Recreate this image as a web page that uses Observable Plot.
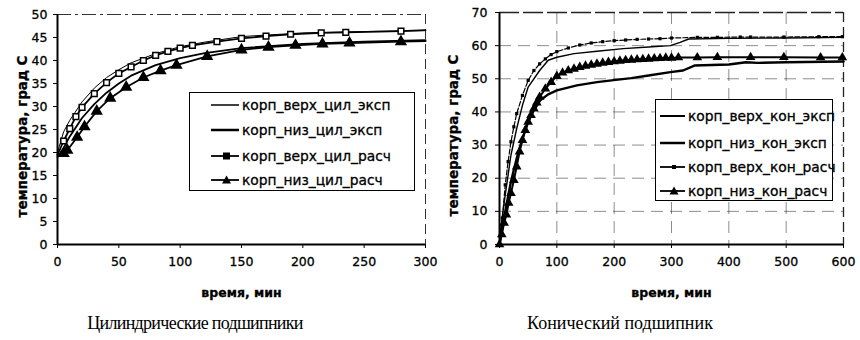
<!DOCTYPE html>
<html><head><meta charset="utf-8">
<script src="https://cdn.jsdelivr.net/npm/d3@7"></script>
<script src="https://cdn.jsdelivr.net/npm/@observablehq/plot@0.6"></script>
<style>
body{margin:0;background:#fff;}
#wrap{position:relative;width:860px;height:340px;background:#fff;overflow:hidden;font-family:"DejaVu Sans",sans-serif;}
.chart{position:absolute;top:0;}
.chart text{stroke:#000;stroke-width:0.3px;}
.cap{position:absolute;top:313px;font-family:"Liberation Serif",serif;font-size:18px;white-space:nowrap;transform:translateX(-50%);color:#000;}
.leg{position:absolute;border:1.5px solid #000;background:#fff;box-sizing:border-box;}
.row{position:absolute;left:0;height:20px;display:flex;align-items:center;white-space:nowrap;font-size:13.8px;color:#000;-webkit-text-stroke:0.3px #000;}
.row svg{flex:none;}
</style></head>
<body><div id="wrap"></div>
<script>
// ---- Left chart: cylindrical bearings ----
const seriesL = ["корп_верх_цил_эксп","корп_низ_цил_эксп","корп_верх_цил_расч","корп_низ_цил_расч"];
const tUpExpL = [0,5,10,20,30,40,50,60,80,100,120,150,200,250,300];
const vUpExpL = [20,24.5,27,31,34,36.3,38,39.5,41.5,43,44,45.2,46,46.3,46.5];
const tLoExpL = [0,5,10,20,30,40,50,60,80,100,120,150,200,250,300];
const vLoExpL = [19,21,23.5,27.5,30.5,33,35,36.7,39,40.5,41.6,42.7,43.6,44.1,44.4];
const tUpCalcL = [0,5,10,15,20,30,40,50,60,70,80,90,100,110,130,150,170,190,215,235,280,300];
const vUpCalcL = [19.5,22.5,25.2,27.8,29.8,32.8,35.2,37.2,38.6,40,41.1,42,42.7,43.3,44.1,44.8,45.3,45.7,46,46.1,46.4,46.6];
const tLoCalcL = [0,5,8,16,22,32,43,56,70,84,97,122,150,172,194,216,238,280,300];
const vLoCalcL = [19.5,19.8,20.5,23.3,25.6,29,31.8,34.2,36.3,37.8,39,40.9,42.3,42.9,43.3,43.6,43.8,44.1,44.2];
const markerTL = [5,10,15,20,30,40,50,60,70,80,90,100,110,130,150,170,190,215,235,280];
const markerTLlo = [5,8,16,22,32,43,56,70,84,97,122,150,172,194,216,238,280];
const xTicksL = [0,50,100,150,200,250,300];
const yTicksL = [0,5,10,15,20,25,30,35,40,45,50];

// ---- Right chart: conical bearing ----
const seriesR = ["корп_верх_кон_эксп","корп_низ_кон_эксп","корп_верх_кон_расч","корп_низ_кон_расч"];
const tUpExpR = [0,10,20,30,40,50,70,85,100,130,170,216,260,298,315,330,400,500,600];
const vUpExpR = [2,15,27,35,42,47.5,52.5,55.6,56.5,57.6,58.3,59.1,59.6,60,61,62,62.2,62.3,62.5];
const tLoExpR = [0,10,20,30,40,50,60,71,85,100,135,170,199,230,260,298,320,340,400,430,450,500,600];
const vLoExpR = [0,10,19,26,32,37,40.5,43.5,45.3,46.5,48,49,49.6,50.2,51,52,52.5,54,54.3,55,54.8,55,55.2];
const tUpCalcR = [0,5,10,15,20,25,30,40,50,60,70,80,90,100,120,140,160,180,200,220,240,260,280,300,345,380,420,438,496,557,598];
const vUpCalcR = [0,8,18,25,31,35.5,39.5,45,49.5,52.5,54.5,56,57.3,58.2,59.3,60.2,60.8,61.2,61.5,61.7,61.9,62,62.1,62.3,62.5,62.5,62.6,62.6,62.6,62.7,62.7];
const tLoCalcR = [0,4,8,12,16,20,25,30,35,40,45,50,55,60,65,70,80,90,100,110,120,130,140,150,160,170,180,190,200,210,220,230,240,250,260,270,280,290,300,312,345,380,438,496,560,598];
const vLoCalcR = [0,3,6.5,9,12.5,15.5,19.4,23.5,28,31.5,34.5,37,39,41,42.8,44.5,47,49,50.8,51.8,52.5,53,53.5,53.9,54.2,54.5,54.8,55,55.2,55.4,55.6,55.7,55.8,55.9,56,56.1,56.2,56.3,56.3,56.4,56.4,56.5,56.5,56.5,56.4,56.4];
const xTicksR = [0,100,200,300,400,500,600];
const yTicksR = [0,10,20,30,40,50,60,70];

const yLabel = "температура, град С";
const xLabel = "время, мин";
const captions = ["Цилиндрические подшипники","Конический подшипник"];

const zip = (ts, vs) => ts.map((t,i)=>({t, v: vs[i]}));
const wrap = document.getElementById("wrap");

function makeChart(opts){
  const {left, width, mL, mR, mT, mB, xDom, yDom, xT, yT, marks} = opts;
  const p = Plot.plot({
    width, height: 310, marginLeft: mL, marginRight: mR, marginTop: mT, marginBottom: mB,
    x: {domain: xDom}, y: {domain: yDom},
    style: {fontFamily: "DejaVu Sans, sans-serif", fontSize: "12.5px", color: "#000", background: "transparent", overflow: "visible"},
    marks: [
      ...marks,
      Plot.axisX({ticks: xT, tickSize: 4, tickPadding: 9, label: null, fontSize: 12.5}),
      Plot.axisY({ticks: yT, tickSize: 4, tickPadding: opts.yPad, label: null, fontSize: 12.5}),
      Plot.text([xLabel], {frameAnchor: "bottom", dy: 52, text: d => d, fontWeight: "bold", fontSize: 12.5, textAnchor: "middle"}),
      Plot.text([yLabel], {frameAnchor: "left", dx: -opts.yLabOff, dy: 7, rotate: -90, text: d => d, fontWeight: "bold", fontSize: 13.5, textAnchor: "middle"})
    ]
  });
  p.classList.add("chart");
  p.style.left = left + "px";
  wrap.appendChild(p);
}

// Left chart
makeChart({
  left: 0, width: 430, mL: 57, mR: 5, mT: 14, mB: 66, xDom: [0,300], yDom: [0,50], xT: xTicksL, yT: yTicksL, yPad: 6, yLabOff: 35,
  marks: [
    Plot.ruleY([50], {stroke: "#333", strokeDasharray: "14,4,3,4"}),
    Plot.ruleX([300], {stroke: "#333", strokeDasharray: "10,5"}),
    Plot.line(zip(tUpExpL, vUpExpL), {x: "t", y: "v", stroke: "#000", strokeWidth: 1}),
    Plot.line(zip(tLoExpL, vLoExpL), {x: "t", y: "v", stroke: "#000", strokeWidth: 1.8}),
    Plot.line(zip(tUpCalcL, vUpCalcL), {x: "t", y: "v", stroke: "#000", strokeWidth: 1.8}),
    Plot.dot(zip(tUpCalcL, vUpCalcL).filter(d => markerTL.includes(d.t)), {x: "t", y: "v", symbol: "square", r: 3.2, fill: "#fff", stroke: "#000", strokeWidth: 1.5}),
    Plot.line(zip(tLoCalcL, vLoCalcL), {x: "t", y: "v", stroke: "#000", strokeWidth: 1.8}),
    Plot.dot(zip(tLoCalcL, vLoCalcL).filter(d => markerTLlo.includes(d.t)), {x: "t", y: "v", symbol: "triangle", r: 3.6, fill: "#000", stroke: "#000"}),
    Plot.ruleX([0], {stroke: "#000", strokeWidth: 2}),
    Plot.ruleY([0], {stroke: "#000", strokeWidth: 2})
  ]
});

// Right chart
makeChart({
  left: 430, width: 430, mL: 69, mR: 17, mT: 12, mB: 66, xDom: [0,600], yDom: [0,70], xT: xTicksR, yT: yTicksR, yPad: 8, yLabOff: 46,
  marks: [
    Plot.gridY({ticks: [10,20,30,40,50,60], stroke: "#000", strokeOpacity: 0.45, strokeDasharray: "12,7"}),
    Plot.gridX({ticks: [100,200,300,400,500], stroke: "#000", strokeOpacity: 0.45, strokeDasharray: "12,7"}),
    Plot.ruleY([70], {stroke: "#222", strokeWidth: 1.3, strokeDasharray: "20,4"}),
    Plot.ruleX([600], {stroke: "#222", strokeWidth: 1.3, strokeDasharray: "10,5"}),
    Plot.line(zip(tUpCalcR, vUpCalcR), {x: "t", y: "v", stroke: "#000", strokeWidth: 1.2, strokeDasharray: "5,2"}),
    Plot.dot(zip(tUpCalcR, vUpCalcR), {x: "t", y: "v", symbol: "square", r: 1.8, fill: "#000"}),
    Plot.line(zip(tUpExpR, vUpExpR), {x: "t", y: "v", stroke: "#000", strokeWidth: 1.4}),
    Plot.line(zip(tLoExpR, vLoExpR), {x: "t", y: "v", stroke: "#000", strokeWidth: 2.4}),
    Plot.line(zip(tLoCalcR, vLoCalcR), {x: "t", y: "v", stroke: "#000", strokeWidth: 2}),
    Plot.dot(zip(tLoCalcR, vLoCalcR), {x: "t", y: "v", symbol: "triangle", r: 3.6, fill: "#000"}),
    Plot.ruleX([0], {stroke: "#000", strokeWidth: 2}),
    Plot.ruleY([0], {stroke: "#000", strokeWidth: 2})
  ]
});

// Legends (HTML overlays)
function legend(x, y, w, h, names, rowYs, sampleX, textX, styles){
  const box = document.createElement("div");
  box.className = "leg";
  Object.assign(box.style, {left: x+"px", top: y+"px", width: w+"px", height: h+"px"});
  names.forEach((n, i) => {
    const r = document.createElement("div");
    r.className = "row";
    r.style.top = (rowYs[i]-10) + "px";
    r.style.left = sampleX + "px";
    const sw = textX - sampleX;
    const st = styles[i];
    let m = "";
    if (st.marker === "square") m = `<rect x="${sw/2-3.5}" y="6.5" width="7" height="7" fill="#000"/>`;
    if (st.marker === "tri") m = `<path d="M${sw/2},5.5 L${sw/2+4.5},13.5 L${sw/2-4.5},13.5Z" fill="#000"/>`;
    if (st.marker === "dot") m = `<rect x="${sw/2-2}" y="8" width="4" height="4" fill="#000"/>`;
    r.innerHTML = `<svg width="${sw}" height="20"><line x1="0" x2="${sw-3}" y1="10" y2="10" stroke="#000" stroke-width="${st.w}"/>${m}</svg><span>${n}</span>`;
    box.appendChild(r);
  });
  wrap.appendChild(box);
}
legend(189, 92, 226, 99, seriesL, [12,37,63,87], 21, 52,
  [{w:1.5},{w:2.5},{w:1.8,marker:"square"},{w:1.8,marker:"tri"}]);
legend(655, 99, 178, 102, seriesR, [16,42.5,67,90.5], 4, 32,
  [{w:2},{w:2.5},{w:1.8,marker:"dot"},{w:1.8,marker:"tri"}]);

// Captions
[[captions[0],195,"-0.7px"],[captions[1],620,"0px"]].forEach(([t,cx,ls]) => {
  const d = document.createElement("div");
  d.className = "cap"; d.textContent = t; d.style.left = cx + "px"; d.style.letterSpacing = ls;
  wrap.appendChild(d);
});
</script></body></html>
